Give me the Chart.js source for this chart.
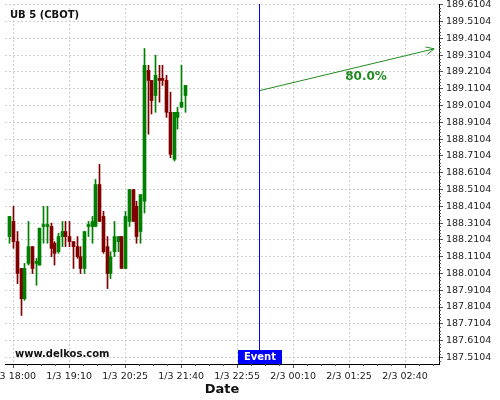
<!DOCTYPE html>
<html>
<head>
<meta charset="utf-8">
<script src="https://cdn.jsdelivr.net/npm/chart.js@4.4.1/dist/chart.umd.min.js"></script>
<style>
  html, body { margin: 0; padding: 0; background: #fff; }
  #wrap { width: 500px; height: 400px; }
</style>
</head>
<body>
<div id="wrap"><canvas id="chart" width="500" height="400"></canvas></div>
<script>
// UB 5 (CBOT), 5 minute bars
const candleOpen  = [188.23, 188.32, 188.20, 188.04, 187.86, 188.07, 188.17, 188.07, 188.06, 188.29,
                     188.29, 188.29, 188.19, 188.14, 188.23, 188.26, 188.23, 188.20, 188.17, 188.11,
                     188.04, 188.29, 188.29, 188.29, 188.54, 188.35, 188.17, 188.01, 188.14, 188.20,
                     188.23, 188.04, 188.32, 188.51, 188.41, 188.26, 188.44, 189.22, 189.16, 189.07,
                     189.165, 189.165, 189.16, 188.97, 188.69, 188.94, 189.00, 189.07];
const candleHigh  = [188.35, 188.41, 188.26, 188.04, 188.07, 188.32, 188.17, 188.10, 188.28, 188.41,
                     188.41, 188.31, 188.20, 188.25, 188.32, 188.32, 188.32, 188.20, 188.23, 188.17,
                     188.26, 188.32, 188.35, 188.57, 188.66, 188.38, 188.23, 188.14, 188.32, 188.23,
                     188.23, 188.38, 188.51, 188.51, 188.44, 188.48, 189.35, 189.25, 189.16, 189.31,
                     189.25, 189.25, 189.19, 189.09, 188.97, 189.00, 189.25, 189.13];
const candleLow   = [188.19, 188.16, 187.95, 187.76, 187.85, 188.06, 188.01, 187.94, 188.06, 188.19,
                     188.19, 188.11, 188.06, 188.13, 188.17, 188.17, 188.17, 188.04, 188.10, 188.01,
                     188.01, 188.23, 188.19, 188.29, 188.32, 188.13, 187.92, 187.98, 188.11, 188.14,
                     188.04, 188.04, 188.29, 188.32, 188.19, 188.19, 188.37, 188.84, 188.96, 188.97,
                     189.03, 189.13, 188.94, 188.70, 188.68, 188.87, 189.00, 188.97];
const candleClose = [188.35, 188.20, 188.01, 187.86, 188.04, 188.17, 188.04, 188.08, 188.28, 188.295,
                     188.295, 188.16, 188.13, 188.23, 188.26, 188.23, 188.20, 188.17, 188.11, 188.04,
                     188.26, 188.295, 188.32, 188.54, 188.32, 188.14, 188.01, 188.11, 188.23, 188.23,
                     188.04, 188.35, 188.51, 188.32, 188.23, 188.48, 189.25, 189.16, 189.04, 189.19,
                     189.16, 189.16, 188.97, 188.72, 188.97, 188.97, 189.03, 189.13];

const xTickIndex  = [1, 16, 31, 46, 61, 76, 91, 106];
const xTickLabels = ['1/3 18:00', '1/3 19:10', '1/3 20:25', '1/3 21:40',
                     '1/3 22:55', '2/3 00:10', '2/3 01:25', '2/3 02:40'];
const yTickValues = [187.5104, 187.6104, 187.7104, 187.8104, 187.9104, 188.0104, 188.1104, 188.2104,
                     188.3104, 188.4104, 188.5104, 188.6104, 188.7104, 188.8104, 188.9104, 189.0104,
                     189.1104, 189.2104, 189.3104, 189.4104, 189.5104, 189.6104];

const eventIndex = 67;
const arrowFrom  = [67, 189.099];
const arrowTo    = [113.8, 189.348];
const arrowText  = '80.0%';

const GREEN = '#008000';
const RED = '#800000';
const ARROW = '#228B22';
const yMin = 187.471, yMax = 189.615;

const colors = candleOpen.map((o, i) => candleClose[i] >= o ? GREEN : RED);
const wicks = candleOpen.map((o, i) => ({ x: i, y: [candleLow[i], candleHigh[i]] }));
const bodies = candleOpen.map((o, i) => ({ x: i, y: [o, candleClose[i]] }));

Chart.defaults.font.family = '"DejaVu Sans", sans-serif';
Chart.defaults.font.size = 9.5;
Chart.defaults.color = '#222';

// keep candles on whole pixels so they stay crisp
const snapBars = {
  id: 'snapBars',
  beforeDatasetsDraw(chart) {
    chart.data.datasets.forEach((ds, di) => {
      const meta = chart.getDatasetMeta(di);
      if (meta.type !== 'bar') return;
      meta.data.forEach(el => {
        if (el._rawX === undefined) el._rawX = el.x;
        el.x = Math.round(el._rawX) + 0.5;
      });
    });
  }
};

// labels, arrow head, event box, minor ticks
const overlay = {
  id: 'overlay',
  afterDraw(chart) {
    const { ctx, chartArea: a, scales: { x, y } } = chart;
    ctx.save();

    // minor ticks
    ctx.strokeStyle = '#555';
    ctx.lineWidth = 1;
    const xs = (xTickIndex[1] - xTickIndex[0]) / 4;
    ctx.beginPath();
    for (let v = xTickIndex[0] - xs; v >= x.min; v -= xs) {
      const px = Math.round(x.getPixelForValue(v)) + 0.5;
      ctx.moveTo(px, a.bottom); ctx.lineTo(px, a.bottom + 2);
    }
    for (let k = 1, v = xTickIndex[0] + xs; v <= x.max; k++, v = xTickIndex[0] + k * xs) {
      if (k % 4 === 0) continue;
      const px = Math.round(x.getPixelForValue(v)) + 0.5;
      ctx.moveTo(px, a.bottom); ctx.lineTo(px, a.bottom + 2);
    }
    const ys = (yTickValues[1] - yTickValues[0]) / 5;
    for (let k = -2; yTickValues[0] + k * ys <= y.max; k++) {
      if (k % 5 === 0) continue;
      const v = yTickValues[0] + k * ys;
      if (v < y.min) continue;
      const py = Math.round(y.getPixelForValue(v)) + 0.5;
      ctx.moveTo(a.right, py); ctx.lineTo(a.right + 2, py);
    }
    ctx.stroke();

    // arrow head
    const x0 = x.getPixelForValue(arrowFrom[0]), y0 = y.getPixelForValue(arrowFrom[1]);
    const x1 = x.getPixelForValue(arrowTo[0]), y1 = y.getPixelForValue(arrowTo[1]);
    const ang = Math.atan2(y1 - y0, x1 - x0);
    ctx.strokeStyle = ARROW;
    ctx.beginPath();
    ctx.moveTo(x1 - 9 * Math.cos(ang - 0.45), y1 - 9 * Math.sin(ang - 0.45));
    ctx.lineTo(x1, y1);
    ctx.lineTo(x1 - 9 * Math.cos(ang + 0.45), y1 - 9 * Math.sin(ang + 0.45));
    ctx.stroke();

    // arrow percentage
    ctx.fillStyle = ARROW;
    ctx.font = 'bold 12px "DejaVu Sans"';
    ctx.textAlign = 'center';
    ctx.textBaseline = 'middle';
    ctx.fillText(arrowText, x0 + 0.61 * (x1 - x0), y0 + 0.61 * (y1 - y0) + 12);

    // title and site
    ctx.fillStyle = '#111';
    ctx.font = 'bold 10px "DejaVu Sans"';
    ctx.textAlign = 'left';
    ctx.fillText('UB 5 (CBOT)', a.left + 5, a.top + 11);
    ctx.fillText('www.delkos.com', a.left + 10, a.bottom - 10);

    // event box
    const ex = Math.round(x.getPixelForValue(eventIndex));
    ctx.fillStyle = '#0000ff';
    ctx.fillRect(ex - 22, a.bottom - 14, 44, 14);
    ctx.fillStyle = '#fff';
    ctx.textAlign = 'center';
    ctx.fillText('Event', ex, a.bottom - 7);

    // axis title
    ctx.fillStyle = '#111';
    ctx.font = 'bold 13px "DejaVu Sans"';
    ctx.fillText('Date', (a.left + a.right) / 2, 390);
    ctx.restore();
  }
};

new Chart(document.getElementById('chart'), {
  type: 'bar',
  data: {
    datasets: [
      { type: 'line', data: [{ x: eventIndex, y: yMin }, { x: eventIndex, y: yMax }],
        borderColor: '#0000ff', borderWidth: 1, pointRadius: 0, order: 1 },
      { type: 'line', data: [{ x: arrowFrom[0], y: arrowFrom[1] }, { x: arrowTo[0], y: arrowTo[1] }],
        borderColor: ARROW, borderWidth: 1, pointRadius: 0, order: 1 },
      { data: wicks, backgroundColor: colors, barThickness: 1, grouped: false, borderWidth: 0, order: 3 },
      { data: bodies, backgroundColor: colors, barThickness: 3, minBarLength: 2, grouped: false, borderWidth: 0, order: 2 }
    ]
  },
  options: {
    responsive: false,
    animation: false,
    layout: { padding: { left: 5, top: 4, right: 0, bottom: 0 } },
    plugins: { legend: { display: false }, tooltip: { enabled: false } },
    scales: {
      x: {
        type: 'linear', min: -1.2, max: 115.1, offset: false,
        grid: { offset: false, color: '#d0d0d0', tickLength: 4, tickColor: '#555' },
        border: { color: '#000', dash: [2, 2] },
        ticks: { autoSkip: false, maxRotation: 0, padding: 3,
                 callback: v => xTickLabels[xTickIndex.indexOf(v)] },
        afterBuildTicks: s => { s.ticks = xTickIndex.map(v => ({ value: v })); },
        afterFit: s => { s.height = 36; s.paddingLeft = 0; s.paddingRight = 0; }
      },
      y: {
        position: 'right', min: yMin, max: yMax,
        grid: { color: '#d0d0d0', tickLength: 4, tickColor: '#555' },
        border: { color: '#000', dash: [2, 2] },
        ticks: { autoSkip: false, padding: 3, callback: v => v.toFixed(4) },
        afterBuildTicks: s => { s.ticks = yTickValues.map(v => ({ value: v })); },
        afterFit: s => { s.width = 61; s.paddingTop = 0; s.paddingBottom = 0; }
      }
    }
  },
  plugins: [snapBars, overlay]
});
</script>
</body>
</html>
